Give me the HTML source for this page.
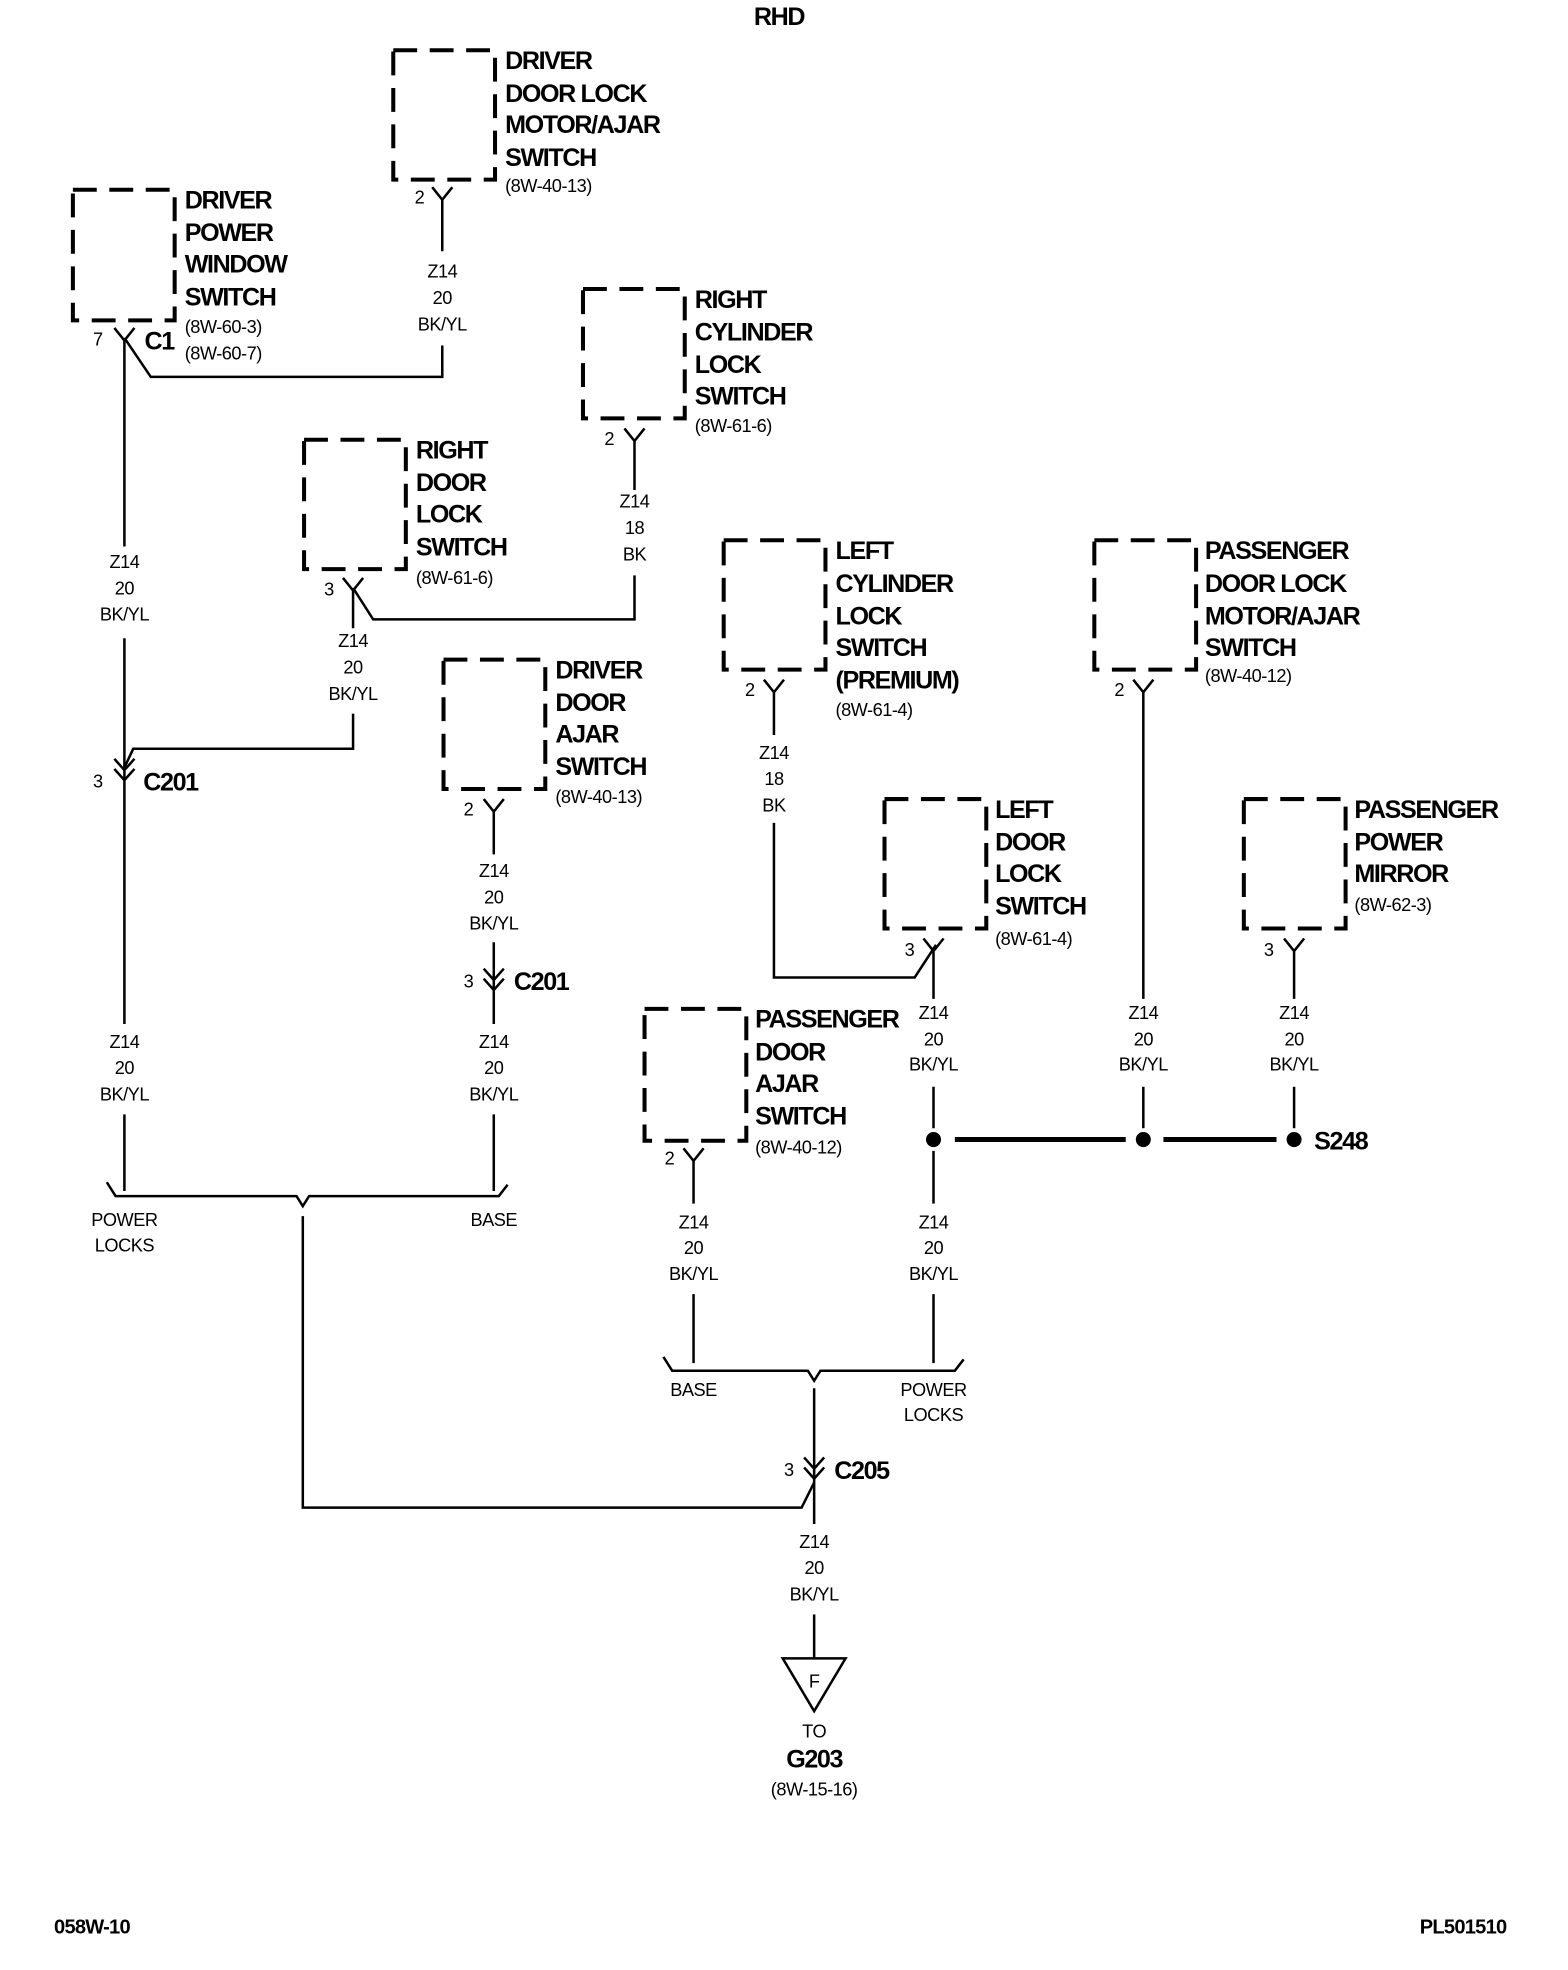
<!DOCTYPE html>
<html><head><meta charset="utf-8">
<style>
html,body{margin:0;padding:0;background:#fff;}
svg{display:block;}
.b{font-family:"Liberation Sans",sans-serif;font-weight:bold;font-size:20px;letter-spacing:-1.1px;fill:#000;}
.s{font-family:"Liberation Sans",sans-serif;font-size:14.5px;letter-spacing:-0.4px;fill:#000;}
.f{font-family:"Liberation Sans",sans-serif;font-weight:bold;font-size:16px;letter-spacing:-0.6px;fill:#000;}
.c{text-anchor:middle;}
.box{fill:none;stroke:#000;stroke-width:3.2;stroke-dasharray:19 10;}
.w{fill:none;stroke:#000;stroke-width:2;}
</style></head>
<body>
<svg width="1568" height="1970" viewBox="0 0 1248 1568" xmlns="http://www.w3.org/2000/svg">
<rect width="1248" height="1568" fill="#fff"/>
<text class="b c" x="620" y="20">RHD</text>

<!-- Driver door lock motor -->
<rect class="box" x="313" y="40" width="81" height="103"/>
<text class="b" x="402" y="55">DRIVER</text><text class="b" x="402" y="81">DOOR LOCK</text><text class="b" x="402" y="106">MOTOR/AJAR</text><text class="b" x="402" y="132">SWITCH</text>
<text class="s" x="402" y="153">(8W-40-13)</text>
<text class="s" x="330" y="162">2</text>
<path class="w" d="M344 149 L352 159 L360 149 M352 159 V200"/>
<text class="s c" x="352" y="221">Z14</text><text class="s c" x="352" y="242">20</text><text class="s c" x="352" y="263">BK/YL</text>
<path class="w" d="M352 275 V300 H120 L99 269"/>

<!-- Driver power window switch -->
<rect class="box" x="58" y="151" width="81" height="104"/>
<text class="b" x="147" y="166">DRIVER</text><text class="b" x="147" y="192">POWER</text><text class="b" x="147" y="217">WINDOW</text><text class="b" x="147" y="243">SWITCH</text>
<text class="s" x="147" y="265">(8W-60-3)</text><text class="s" x="147" y="286">(8W-60-7)</text>
<text class="s" x="74" y="275">7</text>
<path class="w" d="M91 261 L99 271 L107 261 M99 271 V435"/>
<text class="b" x="115" y="278">C1</text>
<text class="s c" x="99" y="452">Z14</text><text class="s c" x="99" y="473">20</text><text class="s c" x="99" y="494">BK/YL</text>
<path class="w" d="M99 508 V815"/>
<path class="w" d="M91 604 L99 613 L107 604 M91 612 L99 621 L107 612"/>
<text class="s" x="74" y="627">3</text><text class="b" x="114" y="629">C201</text>
<text class="s c" x="99" y="834">Z14</text><text class="s c" x="99" y="855">20</text><text class="s c" x="99" y="876">BK/YL</text>
<path class="w" d="M99 887 V948"/>

<!-- Right cylinder lock switch -->
<rect class="box" x="464" y="230" width="81" height="103"/>
<text class="b" x="553" y="245">RIGHT</text><text class="b" x="553" y="271">CYLINDER</text><text class="b" x="553" y="297">LOCK</text><text class="b" x="553" y="322">SWITCH</text>
<text class="s" x="553" y="344">(8W-61-6)</text>
<text class="s" x="481" y="354">2</text>
<path class="w" d="M497 341 L505 351 L513 341 M505 351 V390"/>
<text class="s c" x="505" y="404">Z14</text><text class="s c" x="505" y="425">18</text><text class="s c" x="505" y="446">BK</text>
<path class="w" d="M505 458 V493 H297 L281 468"/>

<!-- Right door lock switch -->
<rect class="box" x="242" y="350" width="81" height="103"/>
<text class="b" x="331" y="365">RIGHT</text><text class="b" x="331" y="391">DOOR</text><text class="b" x="331" y="416">LOCK</text><text class="b" x="331" y="442">SWITCH</text>
<text class="s" x="331" y="465">(8W-61-6)</text>
<text class="s" x="258" y="474">3</text>
<path class="w" d="M273 460 L281 470 L289 460 M281 470 V500"/>
<text class="s c" x="281" y="515">Z14</text><text class="s c" x="281" y="536">20</text><text class="s c" x="281" y="557">BK/YL</text>
<path class="w" d="M281 568 V596 H106 L99 611"/>

<!-- Driver door ajar -->
<rect class="box" x="353" y="525" width="81" height="103"/>
<text class="b" x="442" y="540">DRIVER</text><text class="b" x="442" y="566">DOOR</text><text class="b" x="442" y="591">AJAR</text><text class="b" x="442" y="617">SWITCH</text>
<text class="s" x="442" y="639">(8W-40-13)</text>
<text class="s" x="369" y="649">2</text>
<path class="w" d="M385 636 L393 646 L401 636 M393 646 V680"/>
<text class="s c" x="393" y="698">Z14</text><text class="s c" x="393" y="719">20</text><text class="s c" x="393" y="740">BK/YL</text>
<path class="w" d="M393 750 V815"/>
<path class="w" d="M385 771 L393 780 L401 771 M385 779 L393 788 L401 779"/>
<text class="s" x="369" y="786">3</text><text class="b" x="409" y="788">C201</text>
<text class="s c" x="393" y="834">Z14</text><text class="s c" x="393" y="855">20</text><text class="s c" x="393" y="876">BK/YL</text>
<path class="w" d="M393 887 V948"/>

<!-- bracket 1 -->
<path class="w" d="M85 941 L92 952 H236 L241 960 L246 952 H397 L404 943"/>
<text class="s c" x="99" y="976">POWER</text><text class="s c" x="99" y="996">LOCKS</text>
<text class="s c" x="393" y="976">BASE</text>
<path class="w" d="M241 968 V1200 H638 L648 1180"/>

<!-- Left cylinder lock -->
<rect class="box" x="576" y="430" width="81" height="103"/>
<text class="b" x="665" y="445">LEFT</text><text class="b" x="665" y="471">CYLINDER</text><text class="b" x="665" y="497">LOCK</text><text class="b" x="665" y="522">SWITCH</text><text class="b" x="665" y="548">(PREMIUM)</text>
<text class="s" x="665" y="570">(8W-61-4)</text>
<text class="s" x="593" y="554">2</text>
<path class="w" d="M608 541 L616 551 L624 541 M616 551 V585"/>
<text class="s c" x="616" y="604">Z14</text><text class="s c" x="616" y="625">18</text><text class="s c" x="616" y="646">BK</text>
<path class="w" d="M616 655 V778 H728 L745 752"/>

<!-- Left door lock switch -->
<rect class="box" x="704" y="636" width="81" height="103"/>
<text class="b" x="792" y="651">LEFT</text><text class="b" x="792" y="677">DOOR</text><text class="b" x="792" y="702">LOCK</text><text class="b" x="792" y="728">SWITCH</text>
<text class="s" x="792" y="752">(8W-61-4)</text>
<text class="s" x="720" y="761">3</text>
<path class="w" d="M735 747 L743 757 L751 747 M743 757 V795"/>
<text class="s c" x="743" y="811">Z14</text><text class="s c" x="743" y="832">20</text><text class="s c" x="743" y="852">BK/YL</text>
<path class="w" d="M743 865 V898 M743 916 V958"/>
<text class="s c" x="743" y="978">Z14</text><text class="s c" x="743" y="998">20</text><text class="s c" x="743" y="1019">BK/YL</text>
<path class="w" d="M743 1030 V1085"/>

<!-- Passenger door lock motor -->
<rect class="box" x="871" y="430" width="81" height="103"/>
<text class="b" x="959" y="445">PASSENGER</text><text class="b" x="959" y="471">DOOR LOCK</text><text class="b" x="959" y="497">MOTOR/AJAR</text><text class="b" x="959" y="522">SWITCH</text>
<text class="s" x="959" y="543">(8W-40-12)</text>
<text class="s" x="887" y="554">2</text>
<path class="w" d="M902 541 L910 551 L918 541 M910 551 V795"/>
<text class="s c" x="910" y="811">Z14</text><text class="s c" x="910" y="832">20</text><text class="s c" x="910" y="852">BK/YL</text>
<path class="w" d="M910 865 V898"/>

<!-- Passenger power mirror -->
<rect class="box" x="990" y="636" width="81" height="103"/>
<text class="b" x="1078" y="651">PASSENGER</text><text class="b" x="1078" y="677">POWER</text><text class="b" x="1078" y="702">MIRROR</text>
<text class="s" x="1078" y="725">(8W-62-3)</text>
<text class="s" x="1006" y="761">3</text>
<path class="w" d="M1022 747 L1030 757 L1038 747 M1030 757 V795"/>
<text class="s c" x="1030" y="811">Z14</text><text class="s c" x="1030" y="832">20</text><text class="s c" x="1030" y="852">BK/YL</text>
<path class="w" d="M1030 865 V898"/>

<!-- S248 splice -->
<path d="M760 907 H896 M926 907 H1016" stroke="#000" stroke-width="4" fill="none"/>
<circle cx="743" cy="907" r="6"/><circle cx="910" cy="907" r="6"/><circle cx="1030" cy="907" r="6"/>
<text class="b" x="1046" y="915">S248</text>

<!-- Passenger door ajar -->
<rect class="box" x="513" y="803" width="81" height="105"/>
<text class="b" x="601" y="818">PASSENGER</text><text class="b" x="601" y="844">DOOR</text><text class="b" x="601" y="869">AJAR</text><text class="b" x="601" y="895">SWITCH</text>
<text class="s" x="601" y="918">(8W-40-12)</text>
<text class="s" x="529" y="927">2</text>
<path class="w" d="M544 914 L552 924 L560 914 M552 924 V958"/>
<text class="s c" x="552" y="978">Z14</text><text class="s c" x="552" y="998">20</text><text class="s c" x="552" y="1019">BK/YL</text>
<path class="w" d="M552 1030 V1085"/>

<!-- bracket 2 -->
<path class="w" d="M528 1080 L535 1091 H643 L648 1099 L653 1091 H760 L767 1082"/>
<text class="s c" x="552" y="1111">BASE</text>
<text class="s c" x="743" y="1111">POWER</text><text class="s c" x="743" y="1131">LOCKS</text>
<path class="w" d="M648 1105 V1213"/>
<path class="w" d="M640 1160 L648 1169 L656 1160 M640 1168 L648 1177 L656 1168"/>
<text class="s" x="624" y="1175">3</text><text class="b" x="664" y="1177">C205</text>
<text class="s c" x="648" y="1232">Z14</text><text class="s c" x="648" y="1253">20</text><text class="s c" x="648" y="1274">BK/YL</text>
<path class="w" d="M648 1285 V1320"/>
<path d="M623 1320 H673 L648 1362 Z" fill="none" stroke="#000" stroke-width="2"/>
<text class="s c" x="648" y="1343">F</text>
<text class="s c" x="648" y="1383">TO</text>
<text class="b c" x="648" y="1407">G203</text>
<text class="s c" x="648" y="1429">(8W-15-16)</text>

<text class="f" x="43" y="1539">058W-10</text>
<text class="f" x="1130" y="1539">PL501510</text>
</svg>
</body></html>
